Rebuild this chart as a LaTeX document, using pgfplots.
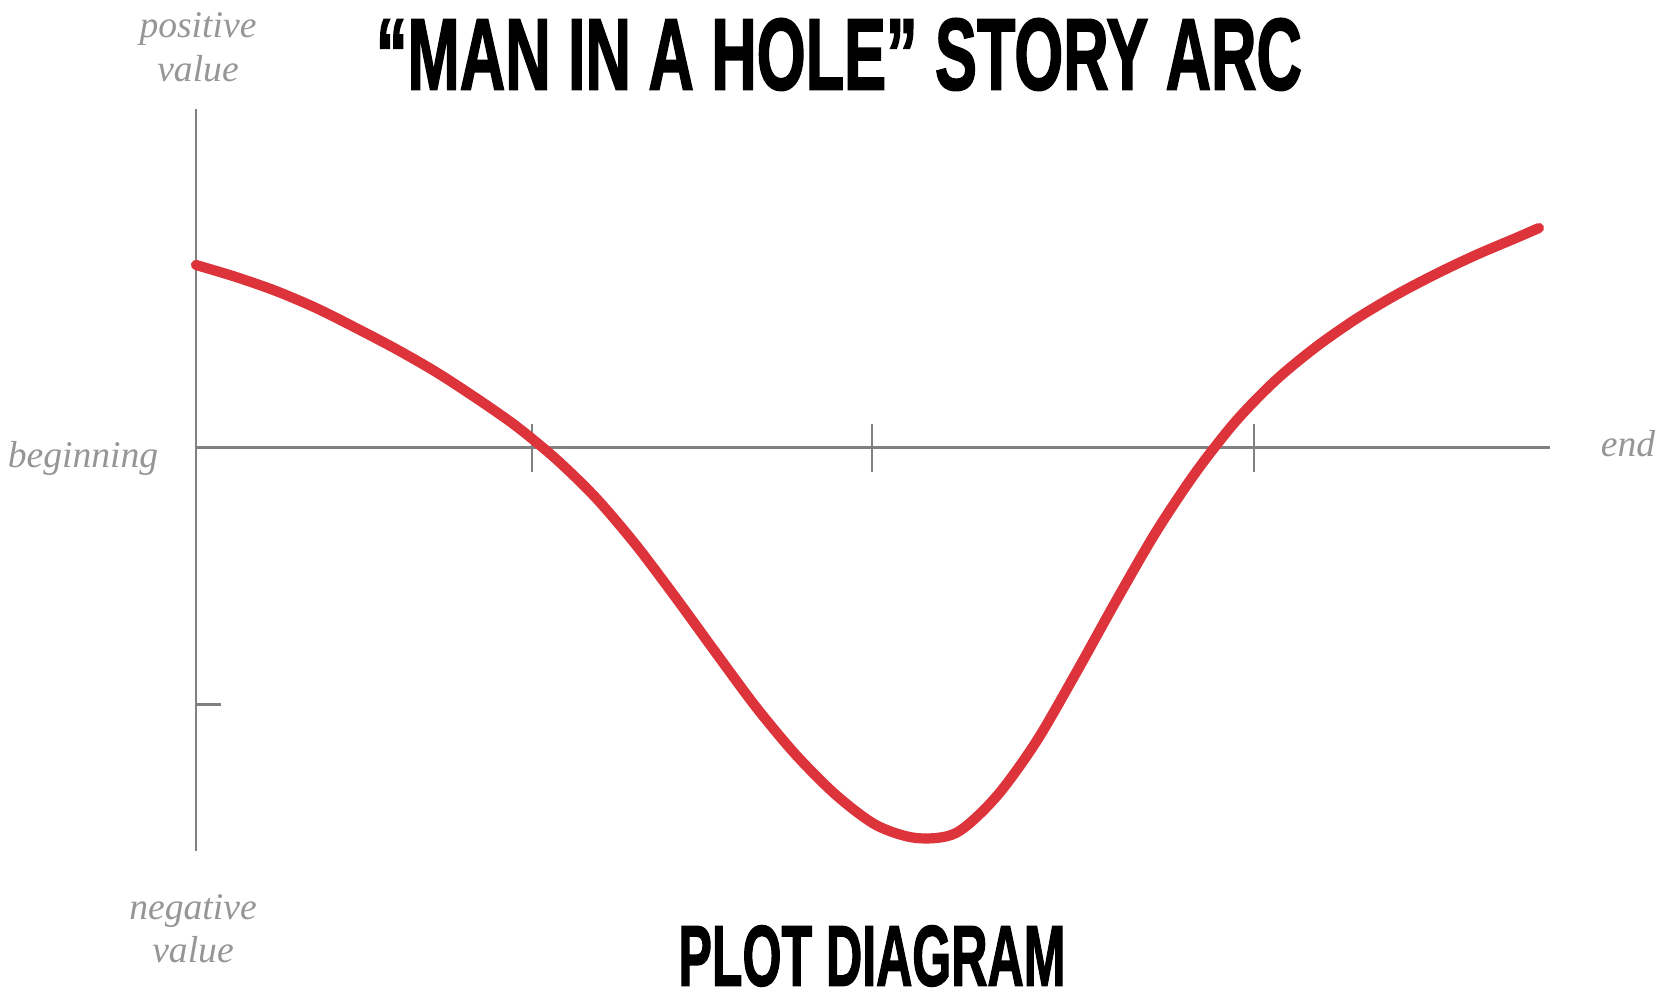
\documentclass[border=0pt]{standalone}
\usepackage{fontspec}
\usepackage{graphicx}
\usepackage{pgfplots}
\pgfplotsset{compat=1.18}

\newfontfamily\labelfont{Liberation Serif}
\newfontfamily\titlefont[FakeBold=2]{Liberation Sans}

\definecolor{arcred}{RGB}{221,52,60}
\definecolor{axgray}{RGB}{128,128,128}
\definecolor{txtgray}{RGB}{150,150,150}

% data in pixel units of the reference: x = px, y = 448 - py
\begin{document}
\begin{tikzpicture}
  \begin{axis}[
    scale only axis,
    width=135.4mm, height=74.2mm,
    xmin=196, xmax=1550,
    ymin=-403, ymax=339,
    axis x line=middle,
    axis y line=left,
    axis line style={-, draw=axgray, line width=0.85pt},
    xtick={532,872,1254},
    xticklabels={,,},
    ytick=\empty,
    extra y ticks={-257},
    extra y tick labels={},
    extra y tick style={tick align=inside, major tick length=2.5mm},
    tick align=center,
    major tick length=4.8mm,
    tick style={draw=axgray, line width=0.85pt},
    clip=false,
  ]
  \addplot[color=arcred, line width=2.9pt, smooth, tension=0.5, line cap=round]
    coordinates {
      (196,183) (236,171) (276,157) (316,140) (356,120) (396,99) (436,76)
      (476,50) (516,22) (556,-11) (596,-50) (636,-97) (676,-150) (716,-205)
      (756,-259) (796,-307) (836,-347) (876,-377) (916,-390) (956,-385)
      (996,-349) (1036,-294) (1076,-225) (1116,-153) (1156,-84) (1196,-24)
      (1236,27) (1276,68) (1316,101) (1356,129) (1396,153) (1436,174)
      (1476,193) (1516,210) (1539,220)
    };

  % titles
  \node[inner sep=0pt, anchor=center] at (axis cs:839,393.5)
    {\resizebox{92.6mm}{7.1mm}{\titlefont\bfseries “MAN IN A HOLE” STORY ARC}};
  \node[inner sep=0pt, anchor=center] at (axis cs:872,-508)
    {\resizebox{38.7mm}{6.0mm}{\titlefont\bfseries PLOT DIAGRAM}};

  % axis end labels
  \begin{scope}[every node/.style={inner sep=0pt, anchor=base, text=txtgray,
      font=\labelfont\itshape\fontsize{10.7}{12}\selectfont}]
    \node at (axis cs:198,410) {positive};
    \node at (axis cs:198,366) {value};
    \node at (axis cs:193,-472) {negative};
    \node at (axis cs:193,-515) {value};
    \node at (axis cs:83,-20) {beginning};
    \node at (axis cs:1628,-9) {end};
  \end{scope}

  % page frame of the reference
  \path (axis cs:0,448) rectangle (axis cs:1662,-548);
  \end{axis}
\end{tikzpicture}
\end{document}
